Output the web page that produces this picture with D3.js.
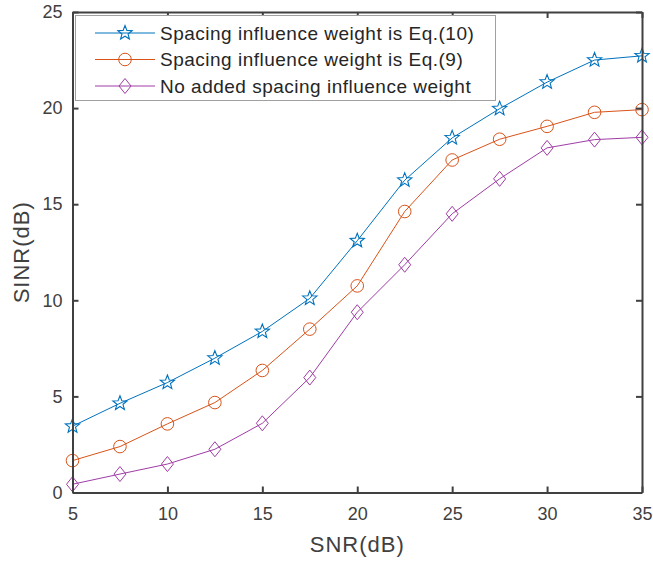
<!DOCTYPE html>
<html>
<head>
<meta charset="utf-8">
<script src="https://cdn.jsdelivr.net/npm/d3@7"></script>
<style>
  body { margin: 0; background: #fff; }
  text { font-family: "Liberation Sans", Arial, sans-serif; }
</style>
</head>
<body>
<script>
// data
var snr = [5, 7.5, 10, 12.5, 15, 17.5, 20, 22.5, 25, 27.5, 30, 32.5, 35];
var eq10 = [3.45, 4.64, 5.72, 6.99, 8.38, 10.1, 13.1, 16.25, 18.45, 19.97, 21.35, 22.5, 22.72];
var eq9 = [1.66, 2.39, 3.57, 4.68, 6.35, 8.5, 10.75, 14.62, 17.3, 18.38, 19.05, 19.78, 19.92];
var noWeight = [0.43, 0.96, 1.48, 2.25, 3.6, 5.98, 9.38, 11.85, 14.5, 16.32, 17.93, 18.36, 18.48];
var seriesNames = ["Spacing influence weight is Eq.(10)", "Spacing influence weight is Eq.(9)", "No added spacing influence weight"];
var xTicks = [5, 10, 15, 20, 25, 30, 35];
var yTicks = [0, 5, 10, 15, 20, 25];

var width = 653, height = 562;
// plot box (note: "top" is taken by window.top, so prefix these)
var boxLeft = 72.5, boxRight = 642, boxTop = 12, boxBottom = 492.5;
var axisColor = "#404040";

var svg = d3.select("body").append("svg")
    .attr("width", width)
    .attr("height", height);

var x = d3.scaleLinear().domain([5, 35]).range([boxLeft, boxRight]);
var y = d3.scaleLinear().domain([0, 25]).range([boxBottom, boxTop]);

var series = [
  {name: seriesNames[0], values: eq10, color: "#0072bd", marker: "star"},
  {name: seriesNames[1], values: eq9, color: "#d95319", marker: "circle"},
  {name: seriesNames[2], values: noWeight, color: "#a03ca6", marker: "diamond"}
];

function drawMarker(g, type, color) {
  if (type === "circle") {
    g.append("circle").attr("r", 6.3)
      .attr("fill", "none").attr("stroke", color).attr("stroke-width", 1);
  } else if (type === "diamond") {
    g.append("path").attr("d", "M0,-7.5L6,0L0,7.5L-6,0Z")
      .attr("fill", "none").attr("stroke", color).attr("stroke-width", 1);
  } else {
    var pts = [];
    for (var i = 0; i < 10; i++) {
      var r = i % 2 === 0 ? 7.5 : 3.2;
      var a = -Math.PI / 2 + i * Math.PI / 5;
      pts.push([r * Math.cos(a), r * Math.sin(a)]);
    }
    g.append("path").attr("d", "M" + pts.join("L") + "Z")
      .attr("fill", "none").attr("stroke", color).attr("stroke-width", 1.1);
  }
}

// lines + markers
var line = d3.line()
    .x(function(d, i) { return x(snr[i]); })
    .y(function(d) { return y(d); });

series.forEach(function(s) {
  svg.append("path")
    .attr("d", line(s.values))
    .attr("fill", "none")
    .attr("stroke", s.color)
    .attr("stroke-width", 1);
  s.values.forEach(function(v, i) {
    var g = svg.append("g").attr("transform", "translate(" + x(snr[i]) + "," + y(v) + ")");
    drawMarker(g, s.marker, s.color);
  });
});

// axes (box with inward ticks)
function styleAxis(g) {
  g.selectAll("path").attr("stroke", axisColor).attr("stroke-width", 2);
  g.selectAll("line").attr("stroke", axisColor).attr("stroke-width", 2);
  g.selectAll("text").attr("fill", axisColor).style("font-size", "18px");
}

svg.append("g")
    .attr("transform", "translate(0," + boxBottom + ")")
    .call(d3.axisBottom(x).tickValues(xTicks).tickSizeInner(-6).tickSizeOuter(0).tickPadding(15))
    .call(styleAxis);
svg.append("g")
    .attr("transform", "translate(0," + boxTop + ")")
    .call(d3.axisTop(x).tickValues(xTicks).tickSizeInner(-6).tickSizeOuter(0).tickFormat(""))
    .call(styleAxis);
svg.append("g")
    .attr("transform", "translate(" + boxLeft + ",0)")
    .call(d3.axisLeft(y).tickValues(yTicks).tickSizeInner(-6).tickSizeOuter(0).tickPadding(10))
    .call(styleAxis);
svg.append("g")
    .attr("transform", "translate(" + boxRight + ",0)")
    .call(d3.axisRight(y).tickValues(yTicks).tickSizeInner(-6).tickSizeOuter(0).tickFormat(""))
    .call(styleAxis);

// axis labels
svg.append("text")
    .attr("x", (boxLeft + boxRight) / 2)
    .attr("y", 552)
    .attr("text-anchor", "middle")
    .attr("fill", axisColor)
    .style("font-size", "22px")
    .style("letter-spacing", "1px")
    .text("SNR(dB)");
svg.append("text")
    .attr("transform", "translate(29," + (boxTop + boxBottom) / 2 + ") rotate(-90)")
    .attr("text-anchor", "middle")
    .attr("fill", axisColor)
    .style("font-size", "22px")
    .style("letter-spacing", "1px")
    .text("SINR(dB)");

// legend
var legend = svg.append("g");
legend.append("rect")
    .attr("x", 75.5).attr("y", 15.5)
    .attr("width", 420).attr("height", 85)
    .attr("fill", "#fff")
    .attr("stroke", "#a0a0a0")
    .attr("stroke-width", 1);

series.forEach(function(s, i) {
  var ly = 33 + i * 26.5;
  legend.append("line")
    .attr("x1", 95).attr("x2", 155)
    .attr("y1", ly).attr("y2", ly)
    .attr("stroke", s.color).attr("stroke-width", 1);
  var g = legend.append("g").attr("transform", "translate(125," + ly + ")");
  drawMarker(g, s.marker, s.color);
  legend.append("text")
    .attr("x", 160).attr("y", ly)
    .attr("dy", "0.35em")
    .attr("fill", "#262626")
    .style("font-size", "19px")
    .style("letter-spacing", "0.5px")
    .text(s.name);
});
</script>
</body>
</html>
